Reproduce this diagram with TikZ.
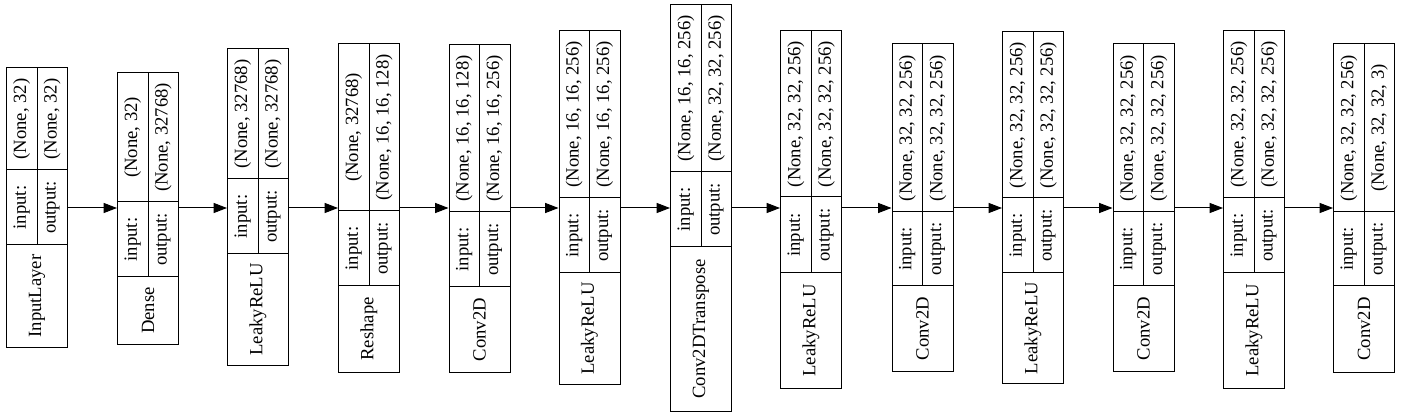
\documentclass[tikz,border=0pt]{standalone}
\usepackage{fontspec}
\setmainfont{Liberation Serif}
\usetikzlibrary{arrows.meta}

\begin{document}
\begin{tikzpicture}[
        x = 0.75pt, y = -0.75pt,
        >= {Triangle[length = 10pt, width = 7.5pt]},
        every node/.style = {font = \fontsize{14pt}{16pt}\selectfont},
        layer/.style = {draw, line width = 0.75pt, inner sep = 0pt, minimum width = 45.75pt},
        field/.style = {draw, line width = 0.75pt, inner sep = 0pt, rotate = 90},
        flow/.style = {->, line width = 0.75pt}
    ]
      \useasboundingbox (0,0) rectangle (1401,416);
      \coordinate (axis) at (0,208);
      % one record per layer: centre x, top, shape/label split, label/name split, bottom
      \foreach \i/\cx/\ytop/\ysplit/\ymid/\ybot/\lname/\shin/\shout in {
          1/37/68/170/245/347/InputLayer/{(None, 32)}/{(None, 32)},
          2/148/73/202/277/344/Dense/{(None, 32)}/{(None, 32768)},
          3/258/49/179/254/365/LeakyReLU/{(None, 32768)}/{(None, 32768)},
          4/369/44/211/286/372/Reshape/{(None, 32768)}/{(None, 16, 16, 128)},
          5/479.5/45/212/287/372/Conv2D/{(None, 16, 16, 128)}/{(None, 16, 16, 256)},
          6/589.5/31/198/273/384/LeakyReLU/{(None, 16, 16, 256)}/{(None, 16, 16, 256)},
          7/701/5/172/247/411/Conv2DTranspose/{(None, 16, 16, 256)}/{(None, 32, 32, 256)},
          8/811/31/197/273/388/LeakyReLU/{(None, 32, 32, 256)}/{(None, 32, 32, 256)},
          9/922.5/44/212/286/371/Conv2D/{(None, 32, 32, 256)}/{(None, 32, 32, 256)},
          10/1033/32/198/273/383/LeakyReLU/{(None, 32, 32, 256)}/{(None, 32, 32, 256)},
          11/1143.5/44/212/286/371/Conv2D/{(None, 32, 32, 256)}/{(None, 32, 32, 256)},
          12/1254/31/198/273/388/LeakyReLU/{(None, 32, 32, 256)}/{(None, 32, 32, 256)},
          13/1364/44/212/286/372/Conv2D/{(None, 32, 32, 256)}/{(None, 32, 32, 3)}%
      }{
        \pgfmathsetmacro\hgt{(\ybot-\ytop)*0.75}
        \pgfmathsetmacro\ycen{(\ytop+\ybot)/2}
        \node[layer, minimum height = \hgt pt] (L\i) at (\cx, \ycen) {};
        % name field
        \pgfmathsetmacro\lnm{(\ybot-\ymid)*0.75}
        \pgfmathsetmacro\ynm{(\ymid+\ybot)/2}
        \node[field, minimum width = \lnm pt, minimum height = 45.75pt] (L\i-name) at (\cx, \ynm) {\lname};
        % input/output labels
        \pgfmathsetmacro\lio{(\ymid-\ysplit)*0.75}
        \pgfmathsetmacro\yio{(\ysplit+\ymid)/2}
        \node[field, minimum width = \lio pt, minimum height = 22.875pt] (L\i-in) at (\cx-15.25, \yio) {input:};
        \node[field, minimum width = \lio pt, minimum height = 22.875pt] (L\i-out) at (\cx+15.25, \yio) {output:};
        % shapes
        \pgfmathsetmacro\lsh{(\ysplit-\ytop)*0.75}
        \pgfmathsetmacro\ysh{(\ytop+\ysplit)/2}
        \node[field, minimum width = \lsh pt, minimum height = 22.875pt] (L\i-shin) at (\cx-15.25, \ysh) {\shin};
        \node[field, minimum width = \lsh pt, minimum height = 22.875pt] (L\i-shout) at (\cx+15.25, \ysh) {\shout};
      }

      \foreach \i [evaluate = \i as \j using int(\i+1)] in {1,...,12}
        \draw[flow] (L\i.east |- axis) -- (L\j.west |- axis);
    \end{tikzpicture}
\end{document}
